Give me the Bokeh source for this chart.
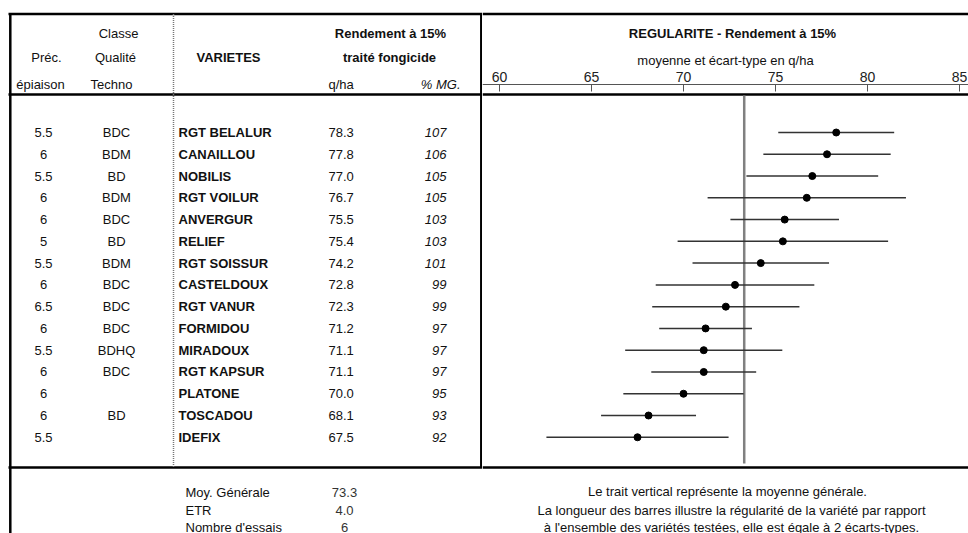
from bokeh.plotting import figure
from bokeh.layouts import row
from bokeh.models import Range1d, LinearAxis, FixedTicker
from bokeh.core.properties import value
from bokeh.embed import file_html
from bokeh.resources import INLINE

# ---------------- data ----------------
prec_epiaison = ["5.5", "6", "5.5", "6", "6", "5", "5.5", "6", "6.5", "6", "5.5", "6", "6", "6", "5.5"]
classe_qualite = ["BDC", "BDM", "BD", "BDM", "BDC", "BD", "BDM", "BDC", "BDC", "BDC", "BDHQ", "BDC", "", "BD", ""]
varietes = ["RGT BELALUR", "CANAILLOU", "NOBILIS", "RGT VOILUR", "ANVERGUR", "RELIEF", "RGT SOISSUR",
            "CASTELDOUX", "RGT VANUR", "FORMIDOU", "MIRADOUX", "RGT KAPSUR", "PLATONE", "TOSCADOU", "IDEFIX"]
rendement = [78.3, 77.8, 77.0, 76.7, 75.5, 75.4, 74.2, 72.8, 72.3, 71.2, 71.1, 71.1, 70.0, 68.1, 67.5]
pct_mg = [107, 106, 105, 105, 103, 103, 101, 99, 99, 97, 97, 97, 95, 93, 92]
ecart_type = [3.15, 3.46, 3.58, 5.39, 2.95, 5.72, 3.71, 4.31, 4.00, 2.52, 4.27, 2.85, 3.27, 2.58, 4.95]
axis_ticks = [60, 65, 70, 75, 80, 85]
moy_generale = 73.3
etr = 4.0
nb_essais = 6

# ---------------- layout helpers ----------------
FONT = value("Liberation Sans")
ROW_PX = 21.77
ROW1_Y = 132.0
X60_PX = 499.0
PX_PER_UNIT = 18.4
SPLIT_X = 482
TOTAL_W = 968
H = 533


def yr(page_y):
    return 1 + (page_y - ROW1_Y) / ROW_PX


def xv(page_x):
    return 60 + (page_x - X60_PX) / PX_PER_UNIT


rows_y = [i + 1 for i in range(len(varietes))]


def make_fig(x_range, width):
    p = figure(width=width, height=H, x_range=x_range, y_range=Range1d(yr(H), yr(0)),
               output_backend="svg", toolbar_location=None, min_border=0,
               x_axis_location=None, y_axis_location=None, outline_line_color=None,
               background_fill_color="white", border_fill_color="white")
    p.grid.grid_line_color = None
    return p


def txt(p, xs, ys, texts, align="center", style="normal", color="#111111", size="13px"):
    p.text(x=xs, y=ys, text=texts, text_font=FONT, text_font_size=size,
           text_align=align, text_baseline="middle", text_font_style=style, text_color=color)


# ---------------- left figure (table) ----------------
L = make_fig(Range1d(0, SPLIT_X), SPLIT_X)

# frame lines
L.segment(x0=[8, 8, 8], x1=[SPLIT_X, SPLIT_X, SPLIT_X], y0=[yr(13.5), yr(94), yr(467)],
          y1=[yr(13.5), yr(94), yr(467)], line_color="black", line_width=2.5)
L.segment(x0=[9.8, 480.8], x1=[9.8, 480.8], y0=[yr(13.5), yr(13.5)], y1=[yr(H), yr(467)],
          line_color="black", line_width=2.5)
L.segment(x0=[173], x1=[173], y0=[yr(13.5)], y1=[yr(467)], line_color="#777777",
          line_width=1.5, line_dash="1 1")

# headers
txt(L, [118], [yr(33)], ["Classe"])
txt(L, [46, 115], [yr(57), yr(57)], ["Préc.", "Qualité"])
txt(L, [40, 111], [yr(84), yr(84)], ["épiaison", "Techno"])
txt(L, [228, 389], [yr(57), yr(57)], ["VARIETES", "traité fongicide"], style="bold")
txt(L, [390], [yr(33)], ["Rendement à 15%"], style="bold")
txt(L, [328], [yr(84)], ["q/ha"], align="left")
txt(L, [460], [yr(84)], ["% MG."], align="right", style="italic")

# rows
n = len(varietes)
txt(L, [43] * n, rows_y, prec_epiaison)
txt(L, [116] * n, rows_y, classe_qualite)
txt(L, [178] * n, rows_y, varietes, align="left", style="bold")
txt(L, [328] * n, rows_y, ["%.1f" % v for v in rendement], align="left")
txt(L, [446] * n, rows_y, [str(v) for v in pct_mg], align="right", style="italic")

# footer
txt(L, [185] * 3, [yr(491.5), yr(510), yr(526.5)],
    ["Moy. Générale", "ETR", "Nombre d'essais"], align="left")
txt(L, [344] * 3, [yr(491.5), yr(510), yr(526.5)],
    ["%.1f" % moy_generale, "%.1f" % etr, str(nb_essais)], color="#333333")

# ---------------- right figure (chart) ----------------
R = make_fig(Range1d(xv(SPLIT_X), xv(TOTAL_W)), TOTAL_W - SPLIT_X)

R.segment(x0=[xv(SPLIT_X)] * 3, x1=[xv(TOTAL_W)] * 3, y0=[yr(13.5), yr(94), yr(467)],
          y1=[yr(13.5), yr(94), yr(467)], line_color="black", line_width=2.5)

ax = LinearAxis(fixed_location=yr(84), ticker=FixedTicker(ticks=axis_ticks),
                axis_label="moyenne et écart-type en q/ha")
ax.axis_line_color = "#555555"
ax.axis_line_width = 1
ax.major_tick_line_color = "#555555"
ax.major_tick_in = 7
ax.major_tick_out = 0
ax.minor_tick_line_color = None
ax.major_label_standoff = 3
ax.major_label_text_font = "Liberation Sans"
ax.major_label_text_font_size = "14px"
ax.major_label_text_color = "#222222"
ax.axis_label_text_font = "Liberation Sans"
ax.axis_label_text_font_size = "13px"
ax.axis_label_text_font_style = "normal"
ax.axis_label_text_color = "#111111"
ax.axis_label_standoff = 1
R.add_layout(ax, "above")

txt(R, [xv(732)], [yr(33)], ["REGULARITE - Rendement à 15%"], style="bold")

# mean line
R.segment(x0=[moy_generale], x1=[moy_generale], y0=[yr(95)], y1=[yr(463)],
          line_color="#808080", line_width=2.5)

# error bars and means
R.segment(x0=[m - s for m, s in zip(rendement, ecart_type)],
          x1=[m + s for m, s in zip(rendement, ecart_type)],
          y0=rows_y, y1=rows_y, line_color="#333333", line_width=1.5)
R.scatter(x=rendement, y=rows_y, size=7, fill_color="black", line_color="black")

# notes
txt(R, [xv(727)], [yr(490.5)], ["Le trait vertical représente la moyenne générale."])
txt(R, [xv(731)], [yr(509.5)], ["La longueur des barres illustre la régularité de la variété par rapport"])
txt(R, [xv(731)], [yr(526.5)], ["à l'ensemble des variétés testées, elle est égale à 2 écarts-types."])

layout = row(L, R)
open("out.html", "w").write(file_html(layout, INLINE))
